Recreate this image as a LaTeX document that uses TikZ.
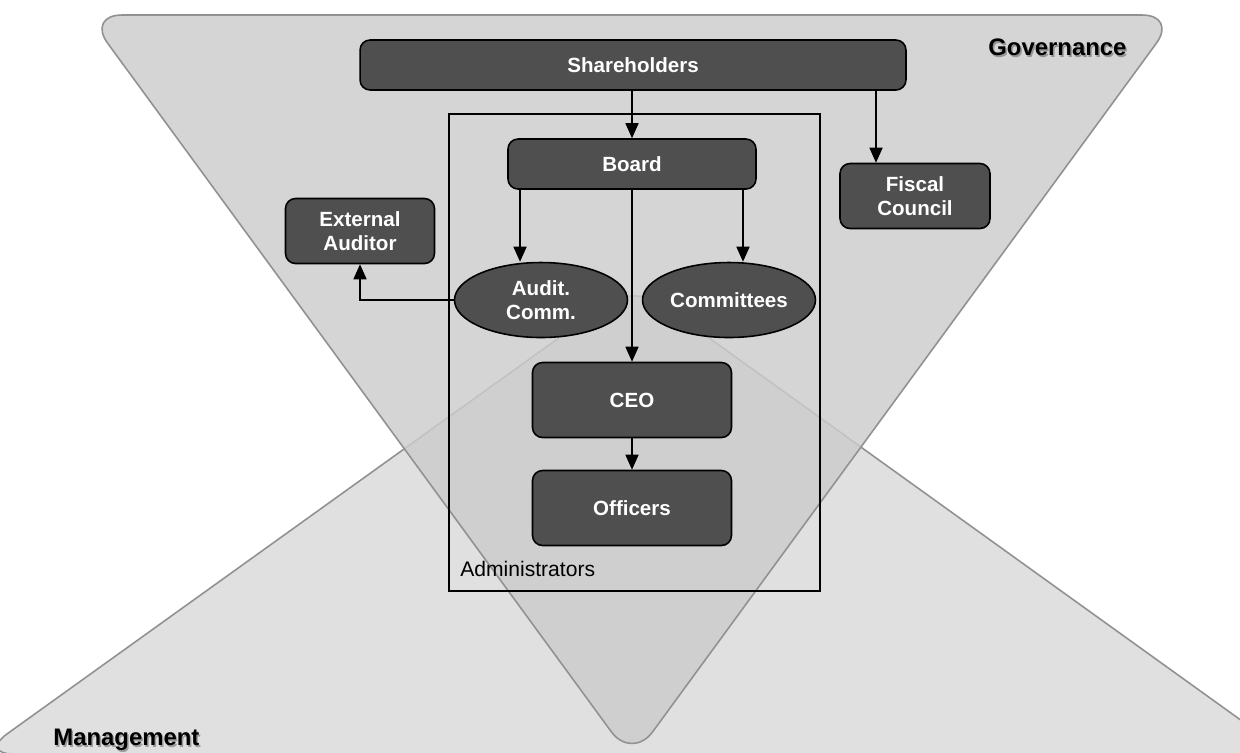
\documentclass[tikz,border=0pt]{standalone}
\usepackage{fontspec}
\setmainfont{Liberation Sans}
\usetikzlibrary{arrows.meta, positioning, shapes.geometric}

\begin{document}
\begin{tikzpicture}[
  x=0.02cm, y=-0.02cm,
  >={Triangle[length=3mm, width=2.6mm]},
  % Node styles
  unit/.style={rectangle, rounded corners=2mm, draw=black, line width=0.9pt, fill=black!69, text=white, font=\fontsize{11.7}{13.6}\selectfont\bfseries, align=center, inner sep=0pt},
  board/.style={ellipse, draw=black, line width=0.9pt, fill=black!69, text=white, font=\fontsize{11.7}{13.6}\selectfont\bfseries, align=center, inner sep=0pt, minimum width=3.46cm, minimum height=1.5cm},
  % Edge styles
  link/.style={->, line width=0.9pt, draw=black},
  zone/.style={draw=black!43, line width=0.9pt, rounded corners=7mm},
  zonelabel/.style={font=\fontsize{13.6}{16}\selectfont\bfseries, inner sep=0pt, anchor=base west},
  zoneshadow/.style={zonelabel, text=black, opacity=0.3}
]

\useasboundingbox (0,0) rectangle (1240,752);

% ------------------------------------------------------------
% Background: two overlapping triangles
% ------------------------------------------------------------
\draw[zone, fill=black!12] (634,284) -- (1288,754) -- (-21,754) -- cycle;
\draw[zone, fill=black!20, fill opacity=0.83] (87,15) -- (1177,15) -- (632,760) -- cycle;

\node[zoneshadow] at (989.5,57.5) {Governance};
\node[zonelabel] (gov) at (988,55) {Governance};
\node[zoneshadow] at (54.5,747.5) {Management};
\node[zonelabel] (mgmt) at (53,745) {Management};

% ------------------------------------------------------------
% Administrators frame
% ------------------------------------------------------------
\draw[line width=0.9pt] (449,114) rectangle (820,591);
\node[anchor=base west, inner sep=0pt, font=\fontsize{12}{14}\selectfont] (admin) at (460,576) {Administrators};

% ------------------------------------------------------------
% Bodies
% ------------------------------------------------------------
\node[unit, minimum width=10.92cm, minimum height=1cm] (share) at (633,65) {Shareholders};
\node[unit, minimum width=4.96cm, minimum height=1cm] (brd) at (632,164) {Board};
\node[unit, minimum width=3.0cm, minimum height=1.3cm] (fiscal) at (915,196) {Fiscal\\Council};
\node[unit, minimum width=2.98cm, minimum height=1.3cm] (ext) at (360,231) {External\\Auditor};
\node[board] (audit) at (541,300) {Audit.\\Comm.};
\node[board] (comm) at (729,300) {Committees};
\node[unit, minimum width=3.98cm, minimum height=1.5cm] (ceo) at (632,400) {CEO};
\node[unit, minimum width=3.98cm, minimum height=1.5cm] (off) at (632,508) {Officers};

% Connector anchors
\coordinate (fc) at ([xshift=-7.8mm]fiscal.north);
\coordinate (ba) at ([xshift=-2.24cm]brd.south);
\coordinate (bc) at ([xshift=2.22cm]brd.south);

% ------------------------------------------------------------
% Connectors
% ------------------------------------------------------------
\draw[link] (share.south -| brd.north) -- (brd.north);
\draw[link] (share.south -| fc) -- (fc);
\draw[link] (ba) -- (ba |- audit.north);
\draw[link] (bc) -- (bc |- comm.north);
\draw[link] (brd.south) -- (ceo.north);
\draw[link] (ceo) -- (off);
\draw[link] (audit.west) -| (ext.south);

\end{tikzpicture}
\end{document}
